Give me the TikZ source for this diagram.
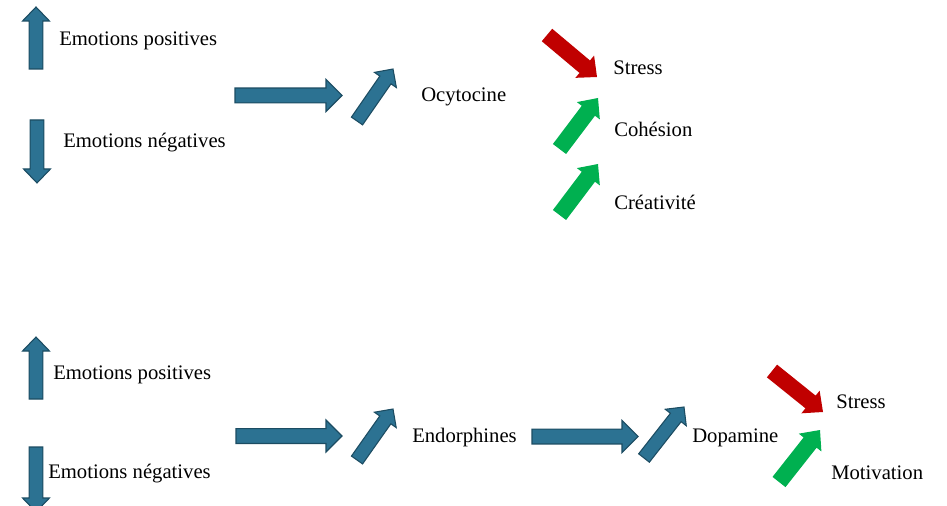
\documentclass[tikz,border=0pt]{standalone}
\usepackage{fontspec}
\setmainfont{Liberation Serif}
\usetikzlibrary{calc}
\definecolor{bluefill}{RGB}{44,114,146}
\definecolor{blueline}{RGB}{28,76,98}
\definecolor{redfill}{RGB}{192,0,0}
\definecolor{greenfill}{RGB}{0,176,80}
% #1 style, #2 tail, #3 tip, #4 shaft half width, #5 head half width, #6 head length
\newcommand\blockarrow[6]{%
  \coordinate (ba-c) at ($(#3)!#6!(#2)$);
  \path[#1] ($(#2)!#4!90:(#3)$) -- ($(ba-c)!#4!90:(#3)$) -- ($(ba-c)!#5!90:(#3)$)
    -- (#3) -- ($(ba-c)!#5!-90:(#3)$) -- ($(ba-c)!#4!-90:(#3)$) -- ($(#2)!#4!-90:(#3)$) -- cycle;
}
\tikzset{
  bluearr/.style={fill=bluefill, draw=blueline, line width=0.8pt, line join=miter},
  redarr/.style={fill=redfill},
  greenarr/.style={fill=greenfill},
  lbl/.style={inner sep=0pt, anchor=base west, font=\fontsize{15.5}{18}\selectfont}
}
\begin{document}
\begin{tikzpicture}[x=0.75pt, y=-0.75pt]
\useasboundingbox (0,0) rectangle (947,506);
\clip (0,0) rectangle (947,506);
% ---------- top ----------
\node[lbl] (ep1) at (59,46) {Emotions positives};
\node[lbl] (en1) at (63,148) {Emotions négatives};
\node[lbl] (oxy) at (421,102) {Ocytocine};
\node[lbl] (st1) at (613,75) {Stress};
\node[lbl] (coh) at (614,137) {Cohésion};
\node[lbl] (cre) at (614,210) {Créativité};

\coordinate (u1a) at (36,69);   \coordinate (u1b) at (36,7);
\coordinate (d1a) at (37,120);  \coordinate (d1b) at (37,183);
\coordinate (r1a) at (235,95.5); \coordinate (r1b) at (342,95.5);
\coordinate (g1a) at (357,121); \coordinate (g1b) at (393,69);
\coordinate (s1a) at (547,35);  \coordinate (s1b) at (597,77);
\coordinate (c1a) at (559.5,149); \coordinate (c1b) at (598,98);
\coordinate (k1a) at (559.5,215); \coordinate (k1b) at (598,164);

\blockarrow{bluearr}{u1a}{u1b}{5.1pt}{10.1pt}{10.5pt}
\blockarrow{bluearr}{d1a}{d1b}{5.1pt}{10.1pt}{10.5pt}
\blockarrow{bluearr}{r1a}{r1b}{5.6pt}{12pt}{12pt}
\blockarrow{bluearr}{g1a}{g1b}{5.1pt}{10pt}{10pt}
\blockarrow{redarr}{s1a}{s1b}{6.1pt}{10.9pt}{12pt}
\blockarrow{greenarr}{c1a}{c1b}{6.2pt}{10.8pt}{12pt}
\blockarrow{greenarr}{k1a}{k1b}{6.2pt}{10.8pt}{12pt}

% ---------- bottom ----------
\node[lbl] (ep2) at (53,379) {Emotions positives};
\node[lbl] (en2) at (48,478) {Emotions négatives};
\node[lbl] (end) at (412,442) {Endorphines};
\node[lbl] (dop) at (692,442) {Dopamine};
\node[lbl] (st2) at (836,408) {Stress};
\node[lbl] (mot) at (831,479) {Motivation};

\coordinate (u2a) at (36,399);  \coordinate (u2b) at (36,337);
\coordinate (d2a) at (36,447);  \coordinate (d2b) at (36,512);
\coordinate (r2a) at (236,436); \coordinate (r2b) at (342,436);
\coordinate (g2a) at (357,460); \coordinate (g2b) at (393,409);
\coordinate (r3a) at (532,436.5); \coordinate (r3b) at (638,436.5);
\coordinate (g3a) at (644,458); \coordinate (g3b) at (684,407);
\coordinate (s2a) at (772,371); \coordinate (s2b) at (823,412);
\coordinate (m2a) at (779,482); \coordinate (m2b) at (820,430);

\blockarrow{bluearr}{u2a}{u2b}{5.1pt}{10.1pt}{10.5pt}
\blockarrow{bluearr}{d2a}{d2b}{5.1pt}{10.1pt}{10.5pt}
\blockarrow{bluearr}{r2a}{r2b}{5.6pt}{12pt}{12pt}
\blockarrow{bluearr}{g2a}{g2b}{5.1pt}{10pt}{10pt}
\blockarrow{bluearr}{r3a}{r3b}{5.6pt}{12pt}{12pt}
\blockarrow{bluearr}{g3a}{g3b}{5.1pt}{10pt}{10pt}
\blockarrow{redarr}{s2a}{s2b}{6.1pt}{10.9pt}{12pt}
\blockarrow{greenarr}{m2a}{m2b}{6.2pt}{10.8pt}{12pt}
\end{tikzpicture}
\end{document}
